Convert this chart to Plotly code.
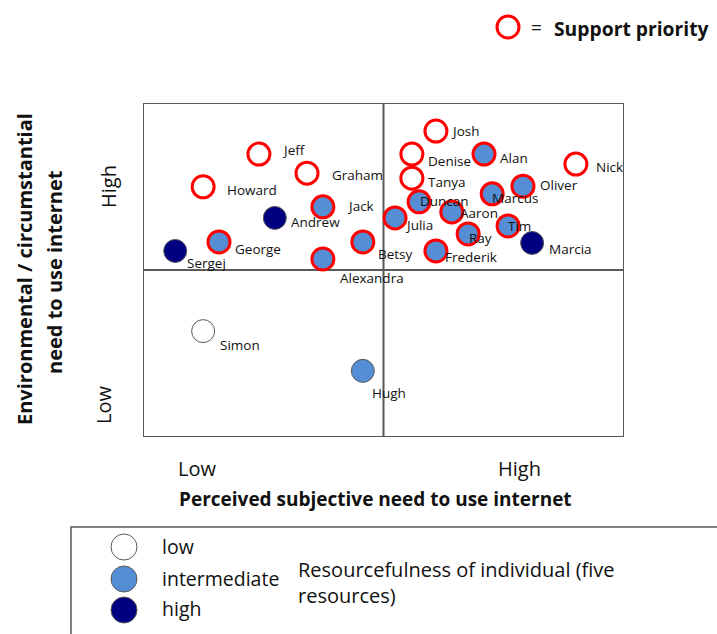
import plotly.graph_objects as go

# ---------------- data ----------------
names = ["Jeff", "Graham", "Howard", "Jack", "Andrew", "George", "Sergej", "Betsy",
         "Alexandra", "Josh", "Denise", "Alan", "Nick", "Tanya", "Oliver", "Marcus",
         "Duncan", "Aaron", "Julia", "Tim", "Ray", "Marcia", "Frederik", "Simon", "Hugh"]
# perceived subjective need (0-10 scale, 5 = split Low/High)
subjective = [2.41, 3.41, 1.25, 3.74, 2.74, 1.58, 0.67, 4.57,
              3.74, 6.09, 5.59, 7.09, 9.00, 5.59, 7.90, 7.26,
              5.74, 6.42, 5.24, 7.59, 6.76, 8.09, 6.09, 1.25, 4.57]
# environmental / circumstantial need (0-10 scale, 5 = split Low/High)
environmental = [8.47, 7.90, 7.49, 6.89, 6.56, 5.84, 5.57, 5.84,
                 5.33, 9.16, 8.47, 8.47, 8.17, 7.75, 7.51, 7.28,
                 7.04, 6.74, 6.56, 6.32, 6.08, 5.81, 5.57, 3.17, 1.98]
resource = ["low", "low", "low", "intermediate", "high", "intermediate", "high", "intermediate",
            "intermediate", "low", "low", "intermediate", "low", "low", "intermediate", "intermediate",
            "intermediate", "intermediate", "intermediate", "intermediate", "intermediate", "high",
            "intermediate", "low", "intermediate"]
priority = [True, True, True, True, False, True, False, True,
            True, True, True, True, True, True, True, True,
            True, True, True, True, True, False, True, False, False]

resource_levels = ["low", "intermediate", "high"]
x_tick_labels = ["Low", "High"]
y_tick_labels = ["Low", "High"]

# ---------------- styles ----------------
FILL = {"low": "#FFFFFF", "intermediate": "#558ED5", "high": "#000080"}
RED = "#FF0000"
GREY = "#595959"
FONT = "Open Sans"
LABEL_OFFSET = {  # pixel offsets of name labels (dx right, dy up)
    "Jeff": (21, 4), "Graham": (23, -2), "Howard": (22, -3), "Jack": (22, 1),
    "Andrew": (14, -4), "George": (14, -7), "Sergej": (10, -12), "Betsy": (13, -12),
    "Alexandra": (15, -19), "Josh": (13, 0), "Denise": (14, -7), "Alan": (14, -4),
    "Nick": (18, -3), "Tanya": (14, -4), "Oliver": (15, 1), "Marcus": (-2, -4),
    "Duncan": (-1, 1), "Aaron": (6, -1), "Julia": (8, -7), "Tim": (-2, 0),
    "Ray": (-1, -4), "Marcia": (15, -6), "Frederik": (7, -6), "Simon": (15, -14),
    "Hugh": (7, -22),
}

W, H = 717, 634
box_l, box_r, box_t, box_b = 143, 624, 103, 437

fig = go.Figure()

# main markers
fig.add_trace(go.Scatter(
    x=subjective, y=environmental, mode="markers",
    marker=dict(
        size=[22 if p else 23 for p in priority],
        opacity=1,
        color=[FILL[r] for r in resource],
        line=dict(color=[RED if p else GREY for p in priority],
                  width=[3 if p else 1 for p in priority]),
    ),
    hovertext=names, hoverinfo="text", showlegend=False,
))

# name labels
for n, xv, yv in zip(names, subjective, environmental):
    dx, dy = LABEL_OFFSET[n]
    fig.add_annotation(x=xv, y=yv, xref="x", yref="y", text=n, showarrow=False,
                       xanchor="left", yanchor="middle", xshift=dx, yshift=dy,
                       font=dict(family=FONT, size=13.5, color="#111111"))

# plot box and quadrant lines
fig.add_shape(type="rect", x0=0, x1=10, y0=0, y1=10, xref="x", yref="y",
              line=dict(color=GREY, width=2), layer="below")
fig.add_shape(type="line", x0=5, x1=5, y0=0, y1=10, xref="x", yref="y",
              line=dict(color=GREY, width=2), layer="below")
fig.add_shape(type="line", x0=0, x1=10, y0=5, y1=5, xref="x", yref="y",
              line=dict(color=GREY, width=2), layer="below")

# full-page pixel axis for decorative legend items
fig.add_trace(go.Scatter(
    x=[508], y=[27], xaxis="x2", yaxis="y2", mode="markers",
    marker=dict(size=22, opacity=1, color="#FFFFFF", line=dict(color=RED, width=3)),
    hoverinfo="skip", showlegend=False))
leg_marker_y = [547, 579, 610]
leg_text_y = [546, 578, 608]
fig.add_trace(go.Scatter(
    x=[124] * 3, y=leg_marker_y, xaxis="x2", yaxis="y2", mode="markers",
    marker=dict(size=26, opacity=1, color=[FILL[r] for r in resource_levels],
                line=dict(color=GREY, width=1)),
    hoverinfo="skip", showlegend=False))
for lvl, yy in zip(resource_levels, leg_text_y):
    fig.add_annotation(x=160, y=yy, xref="x2", yref="y2", text=lvl, showarrow=False,
                       xanchor="left", yanchor="middle",
                       font=dict(family=FONT, size=19.5, color="#111111"))
fig.add_annotation(x=296, y=582, xref="x2", yref="y2",
                   text="Resourcefulness of individual (five<br>resources)",
                   showarrow=False, xanchor="left", yanchor="middle", align="left",
                   font=dict(family=FONT, size=20, color="#111111"))
# legend box (left and top edges, rest outside view)
fig.add_shape(type="rect", x0=71, x1=740, y0=527, y1=660, xref="x2", yref="y2",
              line=dict(color=GREY, width=1.5))

# top key
fig.add_annotation(x=529, y=27, xref="x2", yref="y2", text="=", showarrow=False,
                   xanchor="left", yanchor="middle",
                   font=dict(family=FONT, size=19, color="#111111"))
fig.add_annotation(x=552, y=28, xref="x2", yref="y2", text="<b>Support priority</b>",
                   showarrow=False, xanchor="left", yanchor="middle",
                   font=dict(family=FONT, size=19.3, color="#111111"))

# axis category labels
for lab, xx in zip(x_tick_labels, [197, 519]):
    fig.add_annotation(x=xx, y=468, xref="x2", yref="y2", text=lab, showarrow=False,
                       xanchor="center", yanchor="middle",
                       font=dict(family=FONT, size=20, color="#111111"))
for lab, yy, xx in zip(y_tick_labels, [405, 187], [103, 108]):
    fig.add_annotation(x=xx, y=yy, xref="x2", yref="y2", text=lab, showarrow=False,
                       textangle=-90, xanchor="center", yanchor="middle",
                       font=dict(family=FONT, size=20, color="#111111"))

# axis titles
fig.add_annotation(x=375, y=499, xref="x2", yref="y2",
                   text="<b>Perceived subjective need to use internet</b>", showarrow=False,
                   xanchor="center", yanchor="middle",
                   font=dict(family=FONT, size=19, color="#111111"))
fig.add_annotation(x=24, y=269, xref="x2", yref="y2",
                   text="<b>Environmental / circumstantial</b>", showarrow=False,
                   textangle=-90, xanchor="center", yanchor="middle",
                   font=dict(family=FONT, size=20, color="#111111"))
fig.add_annotation(x=54, y=272, xref="x2", yref="y2",
                   text="<b>need to use internet</b>", showarrow=False,
                   textangle=-90, xanchor="center", yanchor="middle",
                   font=dict(family=FONT, size=20, color="#111111"))

fig.update_layout(
    width=W, height=H, margin=dict(l=0, r=0, t=0, b=0),
    paper_bgcolor="white", plot_bgcolor="rgba(0,0,0,0)",
    xaxis=dict(domain=[box_l / W, box_r / W], range=[0, 10], visible=False,
               fixedrange=True, anchor="y"),
    yaxis=dict(domain=[1 - box_b / H, 1 - box_t / H], range=[0, 10], visible=False,
               fixedrange=True, anchor="x"),
    xaxis2=dict(domain=[0, 1], range=[0, W], visible=False, anchor="y2", fixedrange=True),
    yaxis2=dict(domain=[0, 1], range=[H, 0], visible=False, anchor="x2", fixedrange=True),
    showlegend=False,
)

fig.write_html("out.html", config={"displayModeBar": False},
               post_script="document.body.style.margin='0px';document.body.style.overflow='hidden';")
